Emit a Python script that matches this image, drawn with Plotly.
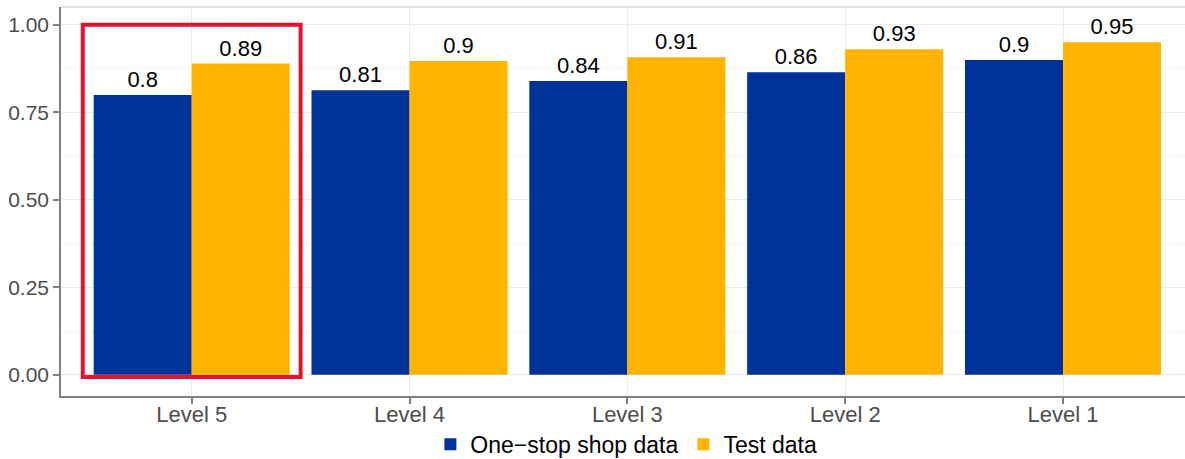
import plotly.graph_objects as go

categories = ["Level 5", "Level 4", "Level 3", "Level 2", "Level 1"]
one_stop = [0.799, 0.813, 0.839, 0.864, 0.899]
test_data = [0.889, 0.896, 0.907, 0.930, 0.950]
series_names = ["One\u2212stop shop data", "Test data"]
colors = ["#003299", "#FFB400"]
y_ticks = [0.0, 0.25, 0.5, 0.75, 1.0]
highlight = "Level 5"


def fmt(v):
    return f"{round(v, 2):g}"


FONT = "Liberation Sans, Arial"

fig = go.Figure()
for name, vals, col in zip(series_names, [one_stop, test_data], colors):
    fig.add_trace(go.Bar(
        x=categories, y=vals, name=name, marker=dict(color=col, line=dict(width=0)),
        text=[fmt(v) for v in vals], textposition="outside",
        textfont=dict(family=FONT, size=22, color="black"),
        cliponaxis=False,
    ))

idx = categories.index(highlight)
fig.add_shape(type="rect", xref="x", yref="y", x0=idx - 0.5, x1=idx + 0.5,
              y0=-0.006, y1=1.0, line=dict(color="#E8112D", width=4), layer="above")
# light top border of panel
fig.add_shape(type="line", xref="paper", yref="paper", x0=0, x1=1, y0=1, y1=1,
              line=dict(color="#d9d9d9", width=1.5))

fig.update_layout(
    width=1185, height=459,
    margin=dict(l=61, r=0, t=7, b=63, autoexpand=False),
    paper_bgcolor="white", plot_bgcolor="white",
    barmode="group", bargap=0.1, bargroupgap=0,
    font=dict(family=FONT, size=21, color="#4d4d4d"),
    showlegend=True,
    legend=dict(orientation="h", x=0.503, xanchor="center",
                yref="paper", y=-0.124, yanchor="middle",
                font=dict(family=FONT, size=23, color="black"), itemwidth=30,
                tracegroupgap=0),
)
fig.update_xaxes(
    range=[-0.6, 4.56], showline=True, linecolor="#808080", linewidth=1.5,
    ticks="outside", ticklen=6, tickcolor="#808080", tickwidth=1.5,
    showgrid=True, gridcolor="#ebebeb", gridwidth=1, automargin=False,
    tickfont=dict(family=FONT, size=22, color="#4d4d4d"), zeroline=False,
    ticklabelstandoff=-8,
)
fig.update_yaxes(
    range=[-0.0605, 1.0505], tickvals=y_ticks, tickformat=".2f",
    showline=True, linecolor="#808080", linewidth=1.5,
    ticks="outside", ticklen=6, tickcolor="#808080", tickwidth=1.5,
    showgrid=True, gridcolor="#ebebeb", gridwidth=1, zeroline=False, automargin=False,
    minor=dict(tickvals=[0.125, 0.375, 0.625, 0.875], showgrid=True,
               gridcolor="#f4f4f4", gridwidth=1, ticks=""),
    tickfont=dict(family=FONT, size=21, color="#4d4d4d"),
)

fig.write_html("out.html", config={"displayModeBar": False},
               post_script="document.body.style.margin='0';")
